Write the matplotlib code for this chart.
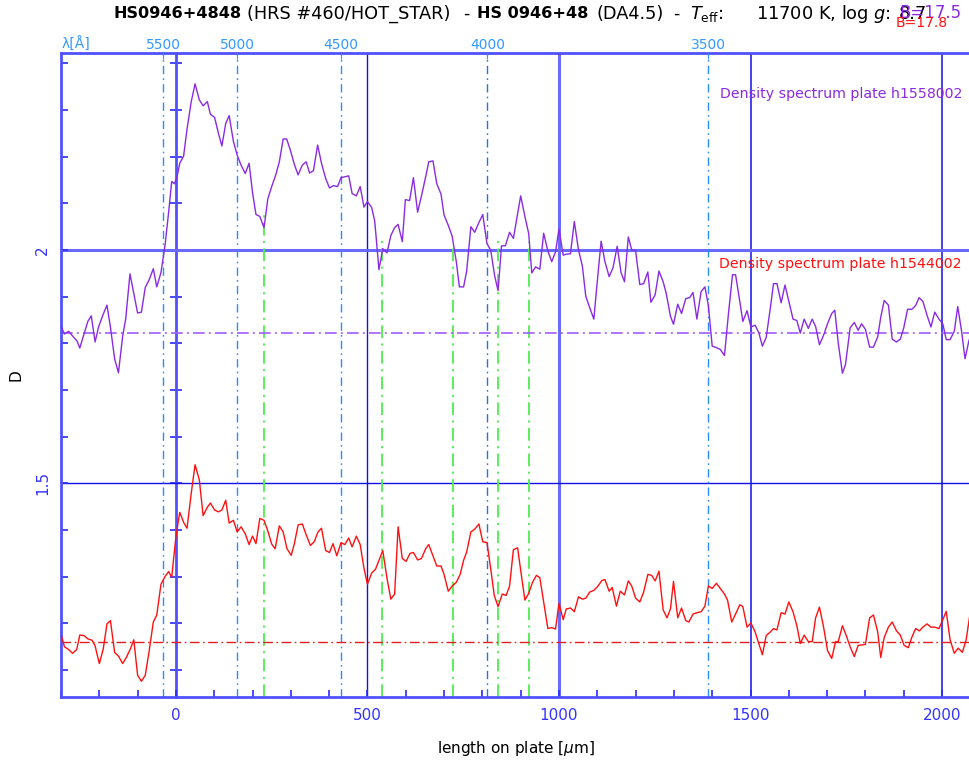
import numpy as np
import matplotlib
matplotlib.use("Agg")
import matplotlib.pyplot as plt

# density spectrum of plate h1558002 (upper curve)
x_purple = [-299, -291, -280, -270, -258, -251, -240, -230, -221, -211, -202, -191, -180, -171,
            -160, -150, -139, -131, -120, -110, -100, -90, -80, -70, -59, -50, -39, -28, -19,
            -11, -4, 3, 10, 20, 29, 40, 50, 61, 71, 82, 90, 101, 111, 120, 130, 139, 150, 160,
            170, 181, 191, 200, 209, 219, 230, 240, 250, 261, 270, 280, 289, 298, 309, 319,
            330, 340, 349, 359, 370, 380, 391, 401, 411, 422, 431, 441, 451, 460, 471, 481,
            491, 500, 511, 519, 530, 540, 551, 561, 571, 580, 591, 599, 610, 620, 631, 641,
            652, 660, 671, 681, 692, 700, 711, 721, 732, 740, 751, 759, 770, 780, 791, 801,
            812, 822, 832, 841, 850, 860, 871, 881, 890, 900, 911, 921, 929, 939, 950, 960,
            971, 981, 991, 1000, 1011, 1019, 1030, 1040, 1051, 1061, 1070, 1080, 1091, 1099,
            1110, 1120, 1131, 1141, 1152, 1162, 1171, 1181, 1190, 1200, 1211, 1221, 1232,
            1240, 1251, 1261, 1272, 1280, 1291, 1299, 1310, 1320, 1331, 1341, 1350, 1360,
            1371, 1381, 1390, 1400, 1411, 1421, 1432, 1442, 1453, 1461, 1472, 1480, 1491,
            1501, 1512, 1522, 1531, 1541, 1552, 1560, 1569, 1580, 1590, 1600, 1611, 1621,
            1630, 1640, 1651, 1661, 1670, 1680, 1691, 1701, 1712, 1720, 1729, 1740, 1748,
            1760, 1771, 1781, 1790, 1800, 1811, 1821, 1832, 1840, 1849, 1860, 1870, 1881,
            1891, 1900, 1910, 1921, 1931, 1940, 1950, 1961, 1971, 1981, 1992, 2002, 2011,
            2021, 2032, 2041, 2051, 2060, 2070, 2080]
d_purple = [1.835, 1.820, 1.826, 1.816, 1.805, 1.790, 1.820, 1.847, 1.859, 1.803, 1.835, 1.860,
            1.882, 1.835, 1.767, 1.737, 1.816, 1.853, 1.949, 1.907, 1.865, 1.867, 1.920, 1.936,
            1.960, 1.921, 1.952, 2.013, 2.081, 2.147, 2.142, 2.157, 2.186, 2.201, 2.259, 2.318,
            2.356, 2.322, 2.309, 2.318, 2.291, 2.284, 2.250, 2.223, 2.271, 2.288, 2.233, 2.203,
            2.182, 2.164, 2.186, 2.123, 2.076, 2.072, 2.048, 2.110, 2.136, 2.162, 2.189, 2.238,
            2.238, 2.216, 2.184, 2.161, 2.182, 2.189, 2.165, 2.170, 2.225, 2.186, 2.153, 2.133,
            2.138, 2.136, 2.155, 2.157, 2.159, 2.121, 2.116, 2.136, 2.092, 2.104, 2.091, 2.062,
            1.958, 2.003, 1.994, 2.031, 2.048, 2.055, 2.018, 2.108, 2.106, 2.155, 2.081, 2.116,
            2.157, 2.189, 2.191, 2.142, 2.120, 2.075, 2.053, 2.030, 1.975, 1.921, 1.921, 1.955,
            2.050, 2.038, 2.059, 2.076, 2.014, 1.999, 1.945, 1.913, 2.009, 2.009, 2.038, 2.025,
            2.068, 2.116, 2.072, 2.035, 1.951, 1.964, 1.959, 2.036, 1.998, 1.975, 1.996, 2.045,
            1.989, 1.991, 1.992, 2.061, 2.000, 1.966, 1.901, 1.877, 1.852, 1.924, 2.019, 1.975,
            1.943, 1.962, 2.008, 1.952, 1.932, 2.028, 2.000, 1.999, 1.926, 1.928, 1.953, 1.888,
            1.904, 1.955, 1.932, 1.907, 1.858, 1.841, 1.884, 1.864, 1.896, 1.898, 1.909, 1.852,
            1.911, 1.921, 1.881, 1.794, 1.791, 1.787, 1.774, 1.860, 1.947, 1.947, 1.890, 1.847,
            1.870, 1.835, 1.839, 1.822, 1.794, 1.813, 1.877, 1.928, 1.928, 1.887, 1.925, 1.890,
            1.852, 1.849, 1.822, 1.852, 1.832, 1.852, 1.836, 1.797, 1.818, 1.842, 1.864, 1.871,
            1.801, 1.736, 1.755, 1.833, 1.845, 1.828, 1.842, 1.830, 1.792, 1.792, 1.814, 1.856,
            1.892, 1.882, 1.809, 1.803, 1.809, 1.833, 1.873, 1.873, 1.881, 1.898, 1.890, 1.860,
            1.835, 1.867, 1.852, 1.842, 1.808, 1.808, 1.826, 1.879, 1.826, 1.767, 1.805, 1.830]

# density spectrum of plate h1544002 (lower curve)
x_red = [-299, -291, -280, -270, -259, -251, -240, -230, -219, -211, -200, -190, -180, -171,
         -160, -150, -139, -129, -118, -110, -100, -90, -80, -70, -59, -50, -39, -28, -19, -11,
         0, 10, 21, 29, 40, 50, 61, 71, 82, 90, 101, 111, 120, 130, 139, 150, 160, 170, 181,
         191, 200, 209, 219, 230, 240, 250, 259, 270, 280, 290, 301, 309, 319, 330, 340, 351,
         361, 371, 380, 391, 401, 410, 420, 431, 441, 451, 460, 471, 481, 491, 500, 511, 521,
         530, 540, 551, 561, 571, 580, 591, 601, 611, 620, 631, 641, 652, 660, 671, 681, 692,
         700, 711, 721, 732, 742, 751, 759, 770, 780, 791, 801, 812, 822, 831, 841, 852, 862,
         871, 881, 892, 900, 911, 920, 931, 941, 950, 960, 971, 981, 991, 1000, 1011, 1019,
         1030, 1040, 1051, 1061, 1070, 1080, 1091, 1101, 1112, 1120, 1131, 1139, 1150, 1160,
         1171, 1181, 1190, 1200, 1211, 1221, 1232, 1242, 1251, 1261, 1272, 1282, 1291, 1299,
         1310, 1320, 1331, 1339, 1350, 1360, 1371, 1381, 1390, 1400, 1411, 1421, 1432, 1440,
         1451, 1461, 1472, 1480, 1491, 1501, 1512, 1520, 1531, 1541, 1552, 1560, 1569, 1580,
         1590, 1600, 1611, 1621, 1630, 1640, 1651, 1661, 1670, 1680, 1691, 1701, 1712, 1722,
         1729, 1740, 1750, 1760, 1771, 1781, 1792, 1800, 1811, 1821, 1832, 1840, 1849, 1860,
         1870, 1881, 1891, 1901, 1912, 1921, 1931, 1941, 1950, 1961, 1971, 1981, 1992, 2002,
         2011, 2021, 2032, 2042, 2053, 2063, 2073]
d_red = [1.174, 1.150, 1.144, 1.136, 1.144, 1.175, 1.174, 1.167, 1.164, 1.152, 1.114, 1.144,
         1.199, 1.206, 1.138, 1.130, 1.114, 1.128, 1.147, 1.165, 1.089, 1.076, 1.089, 1.140,
         1.203, 1.218, 1.284, 1.301, 1.311, 1.299, 1.386, 1.438, 1.415, 1.404, 1.479, 1.540,
         1.508, 1.431, 1.449, 1.458, 1.443, 1.439, 1.443, 1.464, 1.415, 1.421, 1.396, 1.407,
         1.392, 1.369, 1.387, 1.371, 1.425, 1.421, 1.398, 1.370, 1.360, 1.409, 1.396, 1.360,
         1.346, 1.370, 1.411, 1.413, 1.390, 1.367, 1.375, 1.396, 1.404, 1.356, 1.352, 1.371,
         1.345, 1.373, 1.369, 1.383, 1.364, 1.387, 1.369, 1.318, 1.284, 1.308, 1.316, 1.335,
         1.356, 1.297, 1.252, 1.263, 1.407, 1.339, 1.333, 1.350, 1.352, 1.336, 1.339, 1.360,
         1.369, 1.345, 1.323, 1.323, 1.305, 1.269, 1.280, 1.288, 1.305, 1.335, 1.353, 1.396,
         1.402, 1.413, 1.375, 1.373, 1.316, 1.260, 1.236, 1.263, 1.260, 1.280, 1.358, 1.362,
         1.314, 1.250, 1.263, 1.288, 1.303, 1.298, 1.246, 1.189, 1.191, 1.188, 1.243, 1.208,
         1.231, 1.233, 1.225, 1.257, 1.252, 1.254, 1.267, 1.271, 1.279, 1.292, 1.294, 1.269,
         1.277, 1.237, 1.269, 1.261, 1.291, 1.280, 1.254, 1.246, 1.267, 1.305, 1.303, 1.291,
         1.312, 1.229, 1.212, 1.231, 1.290, 1.212, 1.233, 1.206, 1.203, 1.220, 1.223, 1.225,
         1.237, 1.280, 1.275, 1.286, 1.275, 1.263, 1.250, 1.203, 1.220, 1.240, 1.236, 1.192,
         1.201, 1.182, 1.161, 1.133, 1.174, 1.182, 1.189, 1.186, 1.223, 1.220, 1.246, 1.225,
         1.195, 1.157, 1.175, 1.161, 1.161, 1.212, 1.235, 1.191, 1.142, 1.125, 1.161, 1.161,
         1.195, 1.174, 1.150, 1.129, 1.153, 1.154, 1.155, 1.212, 1.218, 1.182, 1.127, 1.170,
         1.192, 1.203, 1.184, 1.175, 1.153, 1.148, 1.170, 1.189, 1.184, 1.192, 1.199, 1.192,
         1.192, 1.189, 1.208, 1.226, 1.165, 1.136, 1.147, 1.138, 1.165, 1.220]

# continuum levels
level_purple = 1.8215
level_red = 1.161

# wavelength scale (top axis)
lam_labels = ["5500", "5000", "4500", "4000", "3500"]
lam_pos = [-33, 160, 431, 813, 1390]

# line markers
line_pos = [229, 538, 724, 842, 921]
line_top = [2.080, 2.025, 2.005, 2.023, 2.018]

xmin, xmax = -300, 2073
ymin, ymax = 1.043, 2.4215

axis_blue = "#5050ff"
grid_dark = "#1010ee"
tick_blue = "#2a2aff"
lam_blue = "#3399ff"
purple = "#8a2be2"
red = "#ff1010"

W, H = 970, 762
fig = plt.figure(figsize=(W / 100, H / 100), dpi=100)
ax = fig.add_axes([61 / W, 1 - 696.7 / H, 909 / W, (696.7 - 53.3) / H])
ax.set_xlim(xmin, xmax)
ax.set_ylim(ymin, ymax)

# grid lines at the labelled ticks
for xv, lw, c in [(500, 1.0, grid_dark), (1000, 2.2, "#6a6aff"), (1500, 1.1, grid_dark), (2000, 1.1, grid_dark)]:
    ax.axvline(xv, color=c, lw=lw, zorder=1)
ax.axhline(2.0, color="#6a6aff", lw=2.2, zorder=1)
ax.axhline(1.5, color=grid_dark, lw=1.0, zorder=1)

# wavelength markers
for i, xv in enumerate(lam_pos):
    c = "#2f6fd8" if lam_labels[i] == "4000" else "#2a8cff"
    ax.axvline(xv, color=c, lw=1.0, ls=(0, (6, 3, 1.2, 3)), zorder=2)

ax.vlines(line_pos, ymin, line_top, colors="#4cee4c", lw=1.3,
          linestyles=[(0, (7, 3, 1.2, 3))], zorder=2)

ax.axhline(level_purple, color="#a35cff", lw=1.2, ls=(0, (7, 2.5, 1.2, 2.5)), zorder=2)
ax.axhline(level_red, color="#e02020", lw=1.0, ls=(0, (7, 2.5, 1.2, 2.5)), zorder=2)

ax.plot(x_purple, d_purple, color=purple, lw=1.0, zorder=3)
ax.plot(x_red, d_red, color=red, lw=1.0, zorder=3)

ax.text(2052, 2.334, "Density spectrum plate h1558002", color=purple, fontsize=10.2,
        ha="right", va="center")
ax.text(2052, 1.970, "Density spectrum plate h1544002", color=red, fontsize=10.2,
        ha="right", va="center")

# axes styling
for s in ["left", "bottom", "top"]:
    ax.spines[s].set_color(axis_blue)
    ax.spines[s].set_linewidth(2.0)
ax.spines["right"].set_visible(False)

ax.set_xticks([0, 500, 1000, 1500, 2000])
ax.set_xticks(np.arange(-300, 2073, 100), minor=True)
ax.set_yticks([1.5, 2.0])
ax.set_yticklabels(["1.5", "2"], rotation=90, va="center")
ax.set_yticks(np.arange(1.1, 2.41, 0.1), minor=True)
ax.tick_params(which="both", direction="in", colors=tick_blue, width=1.2, top=True,
               labelsize=11, labelcolor="#3333ff")
ax.tick_params(which="both", length=5)
ax.tick_params(axis="x", pad=8)
ax.tick_params(axis="y", pad=8)

# second y axis drawn at x = 0
loc0 = (0 - xmin) / (xmax - xmin)
sec = ax.secondary_yaxis(loc0)
sec.set_yticks(np.arange(1.1, 2.41, 0.1))
sec.set_yticklabels([])
sec.tick_params(direction="inout", length=9, width=1.2, colors=tick_blue)
sec.spines["left"].set_color(axis_blue)
sec.spines["left"].set_linewidth(2.0)

# wavelength axis on top
top = ax.twiny()
top.set_xlim(xmin, xmax)
top.set_xticks(lam_pos)
top.set_xticklabels(lam_labels)
top.tick_params(direction="in", length=4, colors=lam_blue, labelsize=10, pad=1)
for s in top.spines.values():
    s.set_visible(False)
fig.text(62 / W, 1 - 44 / H, "λ[Å]", color=lam_blue, fontsize=10, ha="left", va="center")

ax.set_xlabel(r"length on plate [$\mu$m]", fontsize=11, labelpad=12)
ax.set_ylabel("D", fontsize=11, labelpad=8)

# title, placed piece by piece
ty = 1 - 14 / H
title_parts = [
    (114, "HS0946+4848", "bold", 11.6),
    (247, "(HRS #460/HOT_STAR)", "normal", 12.8),
    (463, "-", "normal", 12.8),
    (477, "HS 0946+48", "bold", 11.6),
    (597, "(DA4.5)", "normal", 12.8),
    (673, "-", "normal", 12.8),
    (690, r"$T_{\mathrm{eff}}$:", "normal", 12.8),
    (756, r"11700 K, log $g$:", "normal", 12.8),
    (899, "8.7", "normal", 12.8),
]
for px, s, wt, fs in title_parts:
    fig.text(px / W, ty, s, fontsize=fs, fontweight=wt, ha="left", va="center")
fig.text(899 / W, 1 - 13 / H, "B=17.5", color=purple, fontsize=12, ha="left", va="center")
fig.text(896 / W, 1 - 23 / H, "B=17.8", color=red, fontsize=10, ha="left", va="center")

fig.savefig("out.png", dpi=100)
